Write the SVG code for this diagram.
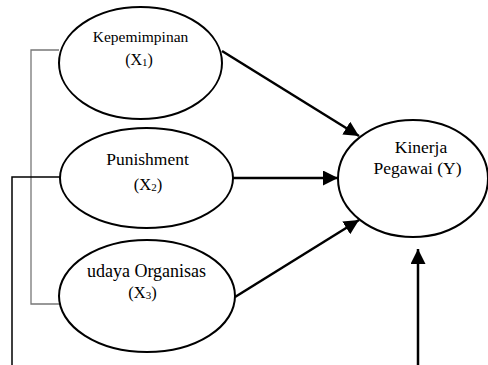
<svg xmlns="http://www.w3.org/2000/svg" width="488" height="365" viewBox="0 0 488 365">
<defs>
<style>
.node ellipse{fill:#fff;stroke:#000;stroke-width:2}
text{font-family:"Liberation Serif","Times New Roman",serif;fill:#000;text-anchor:middle}
.arrow{stroke:#000;stroke-width:2.5;fill:none;marker-end:url(#ah)}
.thin{stroke:#000;stroke-width:1.5;fill:none}
.gray{stroke:#777;stroke-width:1.3;fill:none}
.sub{font-size:11px}
</style>
<marker id="ah" viewBox="0 0 10 10" refX="10" refY="5" markerWidth="6" markerHeight="6" markerUnits="strokeWidth" orient="auto">
<path d="M0,0 L10,5 L0,10 z" fill="#000"/>
</marker>
</defs>
<rect width="488" height="365" fill="#fff"/>
<g id="connectors">
<polyline class="gray" points="59,50 31,50 31,304 60,304"/>
<polyline class="thin" points="60,177 12,177 12,365"/>
<line class="arrow" x1="222" y1="51" x2="359" y2="136"/>
<line class="arrow" x1="233" y1="178" x2="338" y2="178"/>
<line class="arrow" x1="235" y1="297" x2="359" y2="220"/>
<line class="arrow" x1="418" y1="365" x2="418" y2="249"/>
</g>
<g id="x1" class="node">
<ellipse cx="140.5" cy="63" rx="81.5" ry="56"/>
<text x="140.5" y="42" font-size="15.5">Kepemimpinan</text>
<text x="139" y="65" font-size="16">(X<tspan class="sub" dy="1">1</tspan><tspan dy="-1">)</tspan></text>
</g>
<g id="x2" class="node">
<ellipse cx="146.5" cy="178" rx="86.5" ry="50"/>
<text x="147.5" y="165" font-size="17.5">Punishment</text>
<text x="148" y="190" font-size="16.5">(X<tspan class="sub" dy="1">2</tspan><tspan dy="-1">)</tspan></text>
</g>
<g id="x3" class="node">
<ellipse cx="147" cy="296" rx="88" ry="56"/>
<text x="146.5" y="277" font-size="18">udaya Organisas</text>
<text x="142.5" y="298" font-size="16.5">(X<tspan class="sub" dy="1">3</tspan><tspan dy="-1">)</tspan></text>
</g>
<g id="y" class="node">
<ellipse cx="413" cy="178.5" rx="75" ry="58.5"/>
<text x="421" y="153" font-size="17.5">Kinerja</text>
<text x="417.5" y="174" font-size="17.5">Pegawai (Y)</text>
</g>
</svg>
